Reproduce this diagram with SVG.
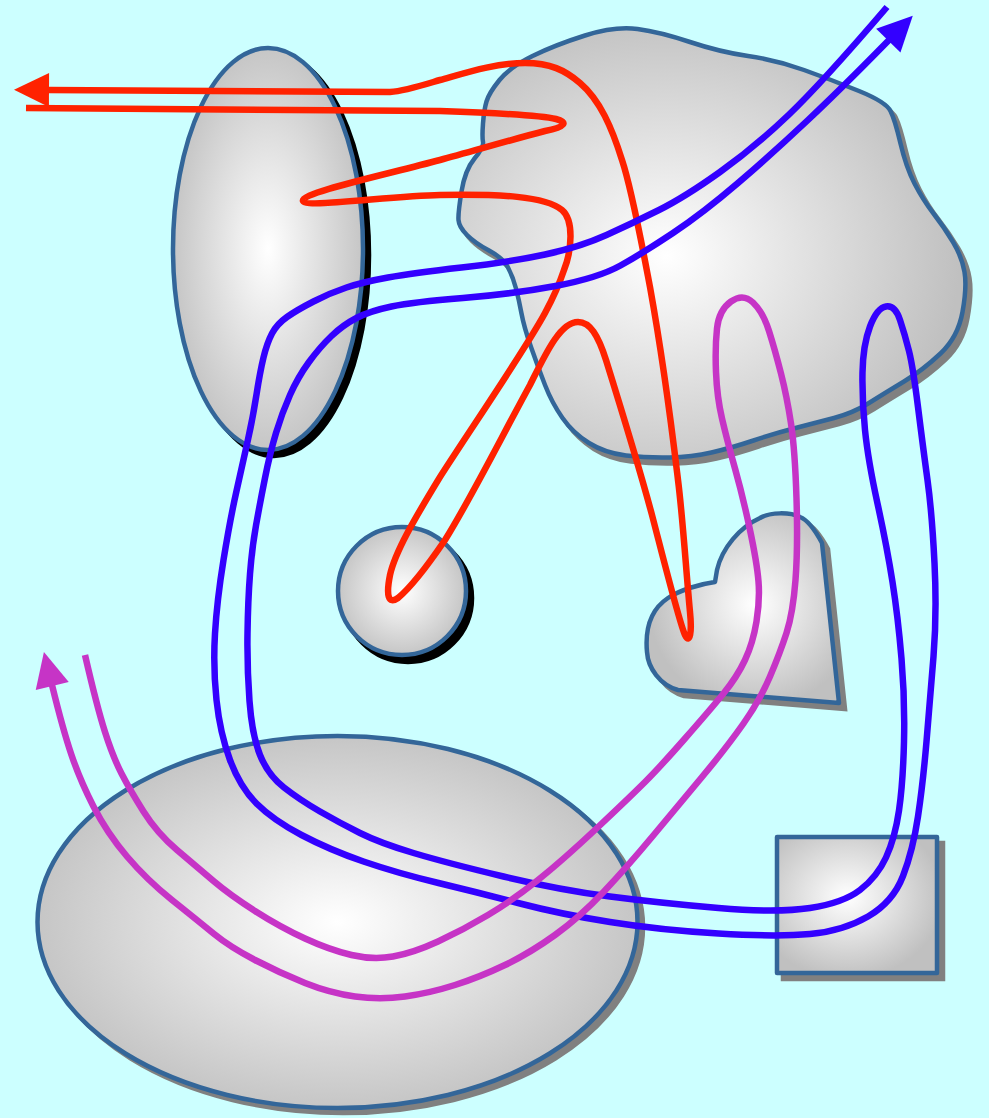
<svg xmlns="http://www.w3.org/2000/svg" width="989" height="1118" viewBox="0 0 989 1118">
  <style>
    .shape { stroke: #336699; stroke-width: 4.5; stroke-linejoin: round; }
    .shadow-gray { fill: #808080; stroke: #808080; stroke-width: 4.5; }
    .shadow-black { fill: #000000; stroke: #000000; stroke-width: 4.5; }
    .conn { fill: none; stroke-width: 6.5; stroke-linejoin: round; }
    .red { stroke: #ff2200; }
    .blue { stroke: #3300ff; }
    .magenta { stroke: #c634c6; }
  </style>
  <defs>
    <radialGradient id="gC" r="0.55">
      <stop offset="0" stop-color="#ffffff"/>
      <stop offset="1" stop-color="#c0c0c0"/>
    </radialGradient>
    <radialGradient id="gBlob" cx="0.41" cy="0.53" r="0.58">
      <stop offset="0" stop-color="#ffffff"/>
      <stop offset="1" stop-color="#c0c0c0"/>
    </radialGradient>
    <radialGradient id="gHeart" cx="0.56" cy="0.48" r="0.55">
      <stop offset="0" stop-color="#ffffff"/>
      <stop offset="1" stop-color="#c0c0c0"/>
    </radialGradient>
    <radialGradient id="gSq" cx="0.44" cy="0.44" r="0.6">
      <stop offset="0" stop-color="#ffffff"/>
      <stop offset="1" stop-color="#c0c0c0"/>
    </radialGradient>
    <marker id="arrRed" markerUnits="userSpaceOnUse" orient="auto" refX="1" refY="0" markerWidth="40" markerHeight="40" overflow="visible">
      <path d="M0,-17 L35,0 L0,17 Z" fill="#ff2200"/>
    </marker>
    <marker id="arrBlue" markerUnits="userSpaceOnUse" orient="auto" refX="1" refY="0" markerWidth="40" markerHeight="40" overflow="visible">
      <path d="M0,-17 L35,0 L0,17 Z" fill="#3300ff"/>
    </marker>
    <marker id="arrMag" markerUnits="userSpaceOnUse" orient="auto" refX="1" refY="0" markerWidth="40" markerHeight="40" overflow="visible">
      <path d="M0,-17 L35,0 L0,17 Z" fill="#c634c6"/>
    </marker>
  </defs>

  <rect x="0" y="0" width="989" height="1118" fill="#ccffff"/>

  <g id="node-blob">
    <path class="shadow-gray" transform="translate(5,6)" d="M585,35.5 Q615,26 637.5,29 Q660,32 690,42 Q720,52 748,56 Q776,60 804,70 Q832,80 859,91 Q886,102 890.5,111 Q895,120 900.5,143.5 Q906,167 914.5,183.5 Q923,200 933.5,213.5 Q944,227 953,242 Q962,257 964.5,272 Q967,287 962.5,312 Q958,337 940.5,353.5 Q923,370 904,381.5 Q885,393 869,403 Q853,413 834,418 Q815,423 795.5,428 Q776,433 753.5,440.5 Q731,448 711.5,452.5 Q692,457 669.5,457.5 Q647,458 626,455.5 Q605,453 589,443 Q573,433 562.5,418 Q552,403 545,385 Q538,367 531,347 Q524,327 521.5,313.5 Q519,300 516,288.5 Q513,277 508,267.5 Q503,258 489,250.5 Q475,243 467,235 Q459,227 458.5,220 Q458,213 461.5,191.5 Q465,170 474.5,158.5 Q484,147 483,142 Q482,137 483,123.5 Q484,110 486.5,101.5 Q489,93 499.5,80 Q510,67 532.5,56 Q555,45 585,35.5 Z"/>
    <path class="shape" fill="url(#gBlob)" d="M585,35.5 Q615,26 637.5,29 Q660,32 690,42 Q720,52 748,56 Q776,60 804,70 Q832,80 859,91 Q886,102 890.5,111 Q895,120 900.5,143.5 Q906,167 914.5,183.5 Q923,200 933.5,213.5 Q944,227 953,242 Q962,257 964.5,272 Q967,287 962.5,312 Q958,337 940.5,353.5 Q923,370 904,381.5 Q885,393 869,403 Q853,413 834,418 Q815,423 795.5,428 Q776,433 753.5,440.5 Q731,448 711.5,452.5 Q692,457 669.5,457.5 Q647,458 626,455.5 Q605,453 589,443 Q573,433 562.5,418 Q552,403 545,385 Q538,367 531,347 Q524,327 521.5,313.5 Q519,300 516,288.5 Q513,277 508,267.5 Q503,258 489,250.5 Q475,243 467,235 Q459,227 458.5,220 Q458,213 461.5,191.5 Q465,170 474.5,158.5 Q484,147 483,142 Q482,137 483,123.5 Q484,110 486.5,101.5 Q489,93 499.5,80 Q510,67 532.5,56 Q555,45 585,35.5 Z"/>
  </g>

  <g id="node-tall-ellipse">
    <ellipse class="shadow-black" cx="274" cy="255" rx="95" ry="201"/>
    <ellipse class="shape" fill="url(#gC)" cx="268" cy="249" rx="95" ry="201"/>
  </g>

  <g id="node-circle">
    <circle class="shadow-black" cx="408" cy="598" r="64"/>
    <circle class="shape" fill="url(#gC)" cx="402" cy="591" r="64"/>
  </g>

  <g id="node-heart">
    <path class="shadow-gray" transform="translate(6,6)" d="M839,703 L822,543 C815,530 808,520 800,517 C790,512 770,512 760,518 C740,527 722,548 717,570 L715,582 C700,584 680,590 668,598 C650,610 645,630 647,652 C648,668 660,685 678,690 Z"/>
    <path class="shape" fill="url(#gHeart)" d="M839,703 L822,543 C815,530 808,520 800,517 C790,512 770,512 760,518 C740,527 722,548 717,570 L715,582 C700,584 680,590 668,598 C650,610 645,630 647,652 C648,668 660,685 678,690 Z"/>
  </g>

  <g id="node-big-ellipse">
    <ellipse class="shadow-gray" cx="343" cy="927" rx="300" ry="186"/>
    <ellipse class="shape" fill="url(#gC)" cx="337.5" cy="922" rx="300" ry="186"/>
  </g>

  <g id="node-square">
    <rect class="shadow-gray" x="783" y="843" width="160" height="136"/>
    <rect class="shape" fill="url(#gSq)" x="777" y="837" width="160" height="136"/>
  </g>

  <g id="connectors">
    <path id="conn-red" class="conn red" marker-end="url(#arrRed)" d="M26,108 L440,111 C500,113 540,115 556,119 C568,122 566,127 545,131 C510,140 470,152 440,160 C380,176 300,193 303,201 C306,208 390,196 440,195 C500,194 545,196 562,210 C574,220 572,250 564,270 C558,288 552,300 545,313 C525,350 470,430 440,477 C415,518 395,552 390,575 C386,595 388,605 398,598 C410,588 428,565 445,540 C470,500 500,440 530,385 C545,355 560,322 578,322 C590,322 598,335 606,360 C620,405 640,470 652,515 C665,565 680,625 685,635 C690,645 692,632 690,612 C686,570 683,520 678,480 C672,430 665,370 650,287 C642,245 632,190 622,160 C612,128 600,100 580,83 C565,70 550,63 525,63 C495,63 465,73 440,80 C420,86 405,91 390,92 L48,90"/>
    <path id="conn-blue" class="conn blue" marker-end="url(#arrBlue)" d="M887,7 Q822,83 788.5,115 Q755,147 720,172 Q685,197 659,210 Q633,223 606.5,235 Q580,247 545,254.5 Q510,262 461.5,267.5 Q413,273 388,277.5 Q363,282 346.5,287.5 Q330,293 313.5,301.5 Q297,310 287,317 Q277,324 272,333.5 Q267,343 263.5,357.5 Q260,372 256.5,394.5 Q253,417 248,439.5 Q243,462 236.5,491 Q230,520 223.5,560 Q217,600 215,633.5 Q213,667 216.5,700 Q220,733 230,760 Q240,787 256.5,803.5 Q273,820 301.5,835 Q330,850 363.5,861.5 Q397,873 438.5,883 Q480,893 520,903.5 Q560,914 610,922 Q660,930 718.5,933.5 Q777,937 810,934 Q843,931 868,916.5 Q893,902 903,876 Q913,850 918,816.5 Q923,783 926.5,741.5 Q930,700 933.5,656.5 Q937,613 934.5,563 Q932,513 927.5,480 Q923,447 918,407 Q913,367 909,351 Q905,335 900,320 Q895,305 886,306.5 Q877,308 870,326.5 Q863,345 862.5,372.5 Q862,400 865,430 Q868,460 877.5,503.5 Q887,547 892.5,582 Q898,617 901.5,658.5 Q905,700 904,741.5 Q903,783 899,810.5 Q895,838 886,857.5 Q877,877 860,890 Q843,903 810,908 Q777,913 718.5,908 Q660,903 610,896.5 Q560,890 503.5,876.5 Q447,863 413.5,853 Q380,843 360,833 Q340,823 320,811.5 Q300,800 284,787.5 Q268,775 260,755 Q252,735 249.5,701 Q247,667 247.5,633.5 Q248,600 250,574 Q252,548 256,525.5 Q260,503 265,478 Q270,453 276,433 Q282,413 290,395 Q298,377 309,362 Q320,347 331.5,336 Q343,325 356.5,318 Q370,311 391.5,306.5 Q413,302 463,298 Q513,294 555.5,286 Q598,278 620.5,265.5 Q643,253 673,233 Q703,213 738,183 Q773,153 808,120 Q843,87 889,40"/>
    <path id="conn-magenta" class="conn magenta" marker-end="url(#arrMag)" d="M85,655 Q97,707 105,732 Q113,757 121.5,773.5 Q130,790 143.5,811.5 Q157,833 177,850 Q197,867 213.5,881 Q230,895 255,911 Q280,927 305,938.5 Q330,950 351.5,955 Q373,960 393,956.5 Q413,953 438,941.5 Q463,930 488,915 Q513,900 538,880 Q563,860 596.5,828.5 Q630,797 645,782 Q660,767 685,738.5 Q710,710 723.5,693.5 Q737,677 745,660 Q753,643 756.5,621.5 Q760,600 758.5,581.5 Q757,563 750,530 Q743,497 735,468.5 Q727,440 722,418.5 Q717,397 716,372 Q715,347 717,328.5 Q719,310 731,301.5 Q743,293 753,302.5 Q763,312 769,331 Q775,350 781,373.5 Q787,397 791,423.5 Q795,450 796.5,498.5 Q798,547 795.5,580 Q793,613 786.5,633 Q780,653 770,676.5 Q760,700 743.5,723.5 Q727,747 702,777 Q677,807 652,837 Q627,867 603.5,892 Q580,917 555,935 Q530,953 505,965 Q480,977 455,985 Q430,993 405,996.5 Q380,1000 355,996.5 Q330,993 305,983 Q280,973 255,960 Q230,947 213.5,933.5 Q197,920 172,900 Q147,880 127,856.5 Q107,833 93.5,806.5 Q80,780 71.5,755 Q63,730 52,685"/>
  </g>
</svg>
